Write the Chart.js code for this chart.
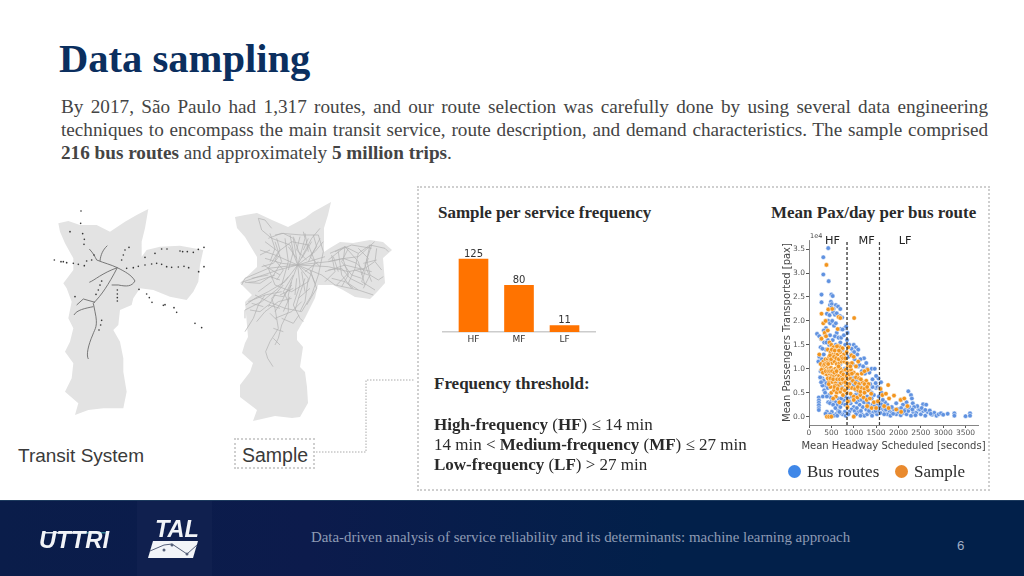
<!DOCTYPE html>
<html>
<head>
<meta charset="utf-8">
<title>Data sampling</title>
<script src="https://cdn.jsdelivr.net/npm/chart.js@4"></script>
<style>
  html, body { margin: 0; padding: 0; background: #fff; }
  #slide { position: relative; width: 1024px; height: 576px; overflow: hidden; font-family: "Liberation Serif", serif; color: #2a2a2a; }
  .t { position: absolute; white-space: nowrap; }
  .sans { font-family: "Liberation Sans", sans-serif; color: #3a3a3a; }
  #title { left: 59px; top: 35px; font-size: 40.6px; font-weight: bold; color: #0b2f5f; }
  #intro { position: absolute; left: 61px; top: 95px; width: 927px; font-size: 19.2px; line-height: 23px; color: #444; }
  #intro div { white-space: nowrap; }
  #intro .just { white-space: normal; text-align: justify; text-align-last: justify; }
  #box { position: absolute; left: 417px; top: 186px; width: 569px; height: 301px; border: 2px dotted #cfcfcf; }
  #sampleBox { position: absolute; left: 234px; top: 438px; width: 77px; height: 27px; border: 2px dotted #cfcfcf; }
  #footer { position: absolute; left: 0; top: 500px; width: 1024px; height: 76px; background: linear-gradient(90deg, #0a1d4a 0%, #0c1b4c 30%, #02204a 65%, #02204a 100%); border-top: 1px solid #1c3a5e; box-sizing: border-box; }
  #talPanel { position: absolute; left: 137px; top: 0; width: 75px; height: 75px; background: #10204f; }
  canvas { position: absolute; filter: blur(0.3px); }
  .dot { position: absolute; width: 13px; height: 13px; border-radius: 50%; }
</style>
</head>
<body>
<div id="slide">
  <div class="t" id="title">Data sampling</div>
  <div id="intro">
    <div class="just">By 2017, São Paulo had 1,317 routes, and our route selection was carefully done by using several data engineering</div>
    <div class="just">techniques to encompass the main transit service, route description, and demand characteristics. The sample comprised</div>
    <div><b>216 bus routes</b> and approximately <b>5 million trips</b>.</div>
  </div>

  <svg style="position:absolute;left:0;top:0;filter:blur(0.35px)" width="1024" height="576">
    <defs>
      <path id="city" fill="#e3e3e3" d="M85,85 L115,78 150,90 200,90 240,110 285,80 320,60 355,42 345,100 335,140 335,185 350,165 390,155 450,152 520,165 510,210 505,260 490,290 470,315 420,305 370,285 330,280 310,310 305,330 270,345 265,390 250,405 270,440 280,490 280,530 290,590 280,640 220,640 175,645 135,660 145,625 105,590 125,550 130,505 105,470 120,440 130,400 115,370 125,320 110,280 100,265 130,225 130,190 105,145 90,110 Z"/>
    </defs>
    <!-- transit system map -->
    <g transform="translate(30,195) scale(0.3333)">
      <use href="#city"/>
      <g fill="none" stroke="#666" stroke-width="2.6">
        <path d="M175,492 C168,480 175,450 188,420 C195,400 205,395 195,350 L190,325 C215,300 235,270 262,218"/>
        <path d="M132,360 C140,345 165,340 190,335"/>
        <path d="M140,330 L160,312 195,322"/>
        <path d="M178,262 C195,255 215,235 262,218"/>
        <path d="M200,195 C225,205 240,208 262,218"/>
        <path d="M178,162 C190,175 195,185 200,195 M232,152 C218,165 212,180 210,198"/>
        <path d="M262,218 C285,230 305,240 315,258 C305,275 290,275 265,270 L245,270"/>
      </g>
      <g fill="#333">
        <circle cx="153" cy="48" r="2.5"/><circle cx="152" cy="85" r="2.5"/><circle cx="120" cy="110" r="2.5"/><circle cx="158" cy="116" r="2.5"/><circle cx="163" cy="133" r="2.5"/><circle cx="162" cy="148" r="2.5"/>
        <circle cx="73" cy="195" r="2.5"/><circle cx="93" cy="200" r="2.5"/><circle cx="100" cy="200" r="2.5"/><circle cx="110" cy="203" r="2.5"/><circle cx="130" cy="205" r="2.5"/><circle cx="145" cy="208" r="2.5"/><circle cx="163" cy="212" r="2.5"/><circle cx="170" cy="198" r="2.5"/><circle cx="185" cy="195" r="2.5"/><circle cx="192" cy="180" r="2.5"/>
        <circle cx="297" cy="157" r="2.5"/><circle cx="285" cy="165" r="2.5"/><circle cx="280" cy="180" r="2.5"/><circle cx="275" cy="195" r="2.5"/><circle cx="290" cy="220" r="2.5"/><circle cx="310" cy="218" r="2.5"/><circle cx="325" cy="214" r="2.5"/><circle cx="345" cy="210" r="2.5"/><circle cx="365" cy="207" r="2.5"/><circle cx="380" cy="205" r="2.5"/><circle cx="395" cy="208" r="2.5"/><circle cx="410" cy="215" r="2.5"/><circle cx="425" cy="217" r="2.5"/><circle cx="445" cy="216" r="2.5"/><circle cx="462" cy="214" r="2.5"/><circle cx="476" cy="218" r="2.5"/><circle cx="506" cy="230" r="2.5"/><circle cx="522" cy="215" r="2.5"/>
        <circle cx="345" cy="187" r="2.5"/><circle cx="375" cy="175" r="2.5"/><circle cx="395" cy="162" r="2.5"/><circle cx="411" cy="162" r="2.5"/><circle cx="450" cy="168" r="2.5"/><circle cx="458" cy="170" r="2.5"/><circle cx="472" cy="170" r="2.5"/><circle cx="490" cy="172" r="2.5"/><circle cx="505" cy="163" r="2.5"/><circle cx="522" cy="157" r="2.5"/>
        <circle cx="327" cy="283" r="2.5"/><circle cx="350" cy="297" r="2.5"/><circle cx="358" cy="308" r="2.5"/><circle cx="366" cy="322" r="2.5"/><circle cx="400" cy="331" r="2.5"/><circle cx="405" cy="329" r="2.5"/><circle cx="432" cy="338" r="2.5"/><circle cx="440" cy="352" r="2.5"/><circle cx="495" cy="385" r="2.5"/><circle cx="515" cy="398" r="2.5"/>
        <circle cx="262" cy="285" r="2.5"/><circle cx="262" cy="297" r="2.5"/><circle cx="262" cy="308" r="2.5"/><circle cx="262" cy="318" r="2.5"/><circle cx="215" cy="258" r="2.5"/><circle cx="210" cy="270" r="2.5"/><circle cx="205" cy="285" r="2.5"/><circle cx="198" cy="298" r="2.5"/><circle cx="135" cy="305" r="2.5"/><circle cx="215" cy="376" r="2.5"/><circle cx="212" cy="390" r="2.5"/><circle cx="207" cy="405" r="2.5"/>
      </g>
    </g>
    <!-- sample map -->
    <path fill="#e3e3e3" d="M235,217 L245,215 257,213 272,220 288,227 305,218 313,212 331,202 328,215 324,228 324,252 330,248 340,242 353,243 370,240 383,242 392,250 383,258 385,283 377,292 370,299 355,297 343,290 333,285 318,285 315,298 305,318 297,332 297,340 303,347 300,367 305,372 307,387 308,403 300,417 292,418 275,416 253,421 257,410 240,397 240,385 250,372 253,363 242,353 245,343 248,337 245,302 252,295 240,283 257,267 257,257 245,237 237,228 Z"/>
    <g transform="translate(225,195) scale(0.3333)" fill="none" stroke="#b2b2b2" stroke-width="2.1" stroke-linejoin="round">
      <path d="M218,210 L240,130 235,110 M218,210 L205,130 175,115 150,120 M218,210 L260,130 285,100 M218,210 L195,150 140,130 110,105 100,70 120,75 140,100"/>
      <path d="M218,210 L270,170 295,140 M218,210 L300,185 M218,210 L310,200 360,190 400,185 449,140 M218,210 L310,215 370,230 420,220 449,200 M218,210 L290,240 330,270 400,285 445,300"/>
      <path d="M310,195 L360,155 400,200 420,270 M340,170 L350,240 380,280 M440,150 L420,210 440,260"/>
      <path d="M218,210 L160,225 100,245 50,262 M218,210 L170,205 120,190 M218,210 L130,220 60,250 50,270 M150,240 L90,260 70,262 M218,210 L150,180 105,165"/>
      <path d="M218,210 L180,260 130,290 90,310 62,330 M190,245 L160,280 110,320 60,345 60,370 M175,270 L140,310 150,340 160,400 135,440 122,470 128,490 144,515 M120,300 L100,330 85,370 60,410"/>
      <path d="M218,210 L195,270 170,320 150,350 M218,210 L225,270 205,330 225,370 235,380 M218,210 L250,250 240,320 225,350 M218,210 L260,240 275,280 245,330 M200,260 L190,300 190,350 170,390 160,430 150,450"/>
      <path d="M130,130 L170,115 230,120 280,120 295,170 280,240 260,300 230,350 180,340 130,320 90,300"/>
      <path d="M160,170 L200,140 250,150 270,200 250,260 200,290 150,270 130,220 Z"/>
      <path d="M150,140 L170,200 140,250 M180,130 L190,200 170,270 M260,140 L230,190 M280,200 L240,230 M120,140 L160,170 M100,290 L140,260 M70,320 L120,300 170,290 M120,350 L160,320 200,310 M150,370 L200,350 230,320"/>
      <path d="M320,180 L330,230 300,260 M370,160 L350,200 380,240 410,250 M400,160 L430,190 410,240 M330,170 L380,150 440,160 M300,230 L360,210 440,230"/>
      <path d="M135,115 L150,160 135,200 M240,115 L250,170 M285,130 L250,200 M205,125 L225,180 M115,210 L165,240 M80,250 L130,240 M230,230 L240,290 M215,250 L210,300 M165,300 L205,280 M130,335 L150,300 M175,350 L195,305 M220,310 L255,280"/>
      <path d="M155,130 L165,165 150,195 175,225 155,255 M195,120 L205,170 190,225 M225,125 L215,165 245,195 M265,120 L275,155 255,185 285,215 M110,215 L145,205 165,180 M105,180 L135,165 M60,262 L105,265 135,245 165,255 M75,345 L105,350 130,330 165,340 M80,325 L115,335 M95,380 L120,350 M145,300 L175,305 200,270 M205,240 L175,290 190,320 M240,250 L225,295 210,345 M255,225 L270,265 M170,370 L205,385 222,360 M145,400 L175,410 M145,430 L165,450 M135,355 L155,375 M190,155 L215,190 M250,130 L235,165"/>
    </g>
    <g transform="translate(320,225) scale(0.3333)" fill="none" stroke="#b2b2b2" stroke-width="2.1" stroke-linejoin="round">
      <path d="M30,85 L75,65 115,85 150,60 195,70 205,80 M25,110 L70,100 110,115 135,140 125,170 M25,135 L65,130 90,160 130,180 M35,160 L75,170 100,190 M75,65 L70,105 85,150 65,185 M115,85 L105,130 85,175 115,195 M150,60 L140,105 150,150 175,165 190,155 M170,70 L165,110 185,135 M130,115 L170,105 M105,135 L145,150 M40,95 L55,140 M50,180 L90,140 M125,170 L165,195 M150,150 L130,190"/>
    </g>
    <!-- leader from sample label to frequency panel -->
    <path d="M316,452 H366 V380 H415" fill="none" stroke="#aaa" stroke-width="1" stroke-dasharray="1.5 1.5"/>
  </svg>

  <div class="t sans" style="left:18px;top:445px;font-size:19px">Transit System</div>
  <div id="sampleBox"></div>
  <div class="t sans" style="left:242px;top:444px;font-size:19.5px">Sample</div>

  <div id="box"></div>
  <div class="t" style="left:438px;top:203px;font-size:17px;font-weight:bold">Sample per service frequency</div>
  <div class="t" style="left:771px;top:203px;font-size:17px;font-weight:bold">Mean Pax/day per bus route</div>

  <canvas id="freqChart" style="left:433px;top:240px;width:172px;height:110px"></canvas>
  <canvas id="paxChart" style="left:770px;top:225px;width:220px;height:227px"></canvas>

  <div class="t" style="left:434px;top:374px;font-size:17px;font-weight:bold">Frequency threshold:</div>
  <div class="t" style="left:434px;top:415px;font-size:17px"><b>High-frequency</b> (<b>HF</b>) ≤ 14 min</div>
  <div class="t" style="left:434px;top:435px;font-size:17px">14 min &lt; <b>Medium-frequency</b> (<b>MF</b>) ≤ 27 min</div>
  <div class="t" style="left:434px;top:455px;font-size:17px"><b>Low-frequency</b> (<b>LF</b>) &gt; 27 min</div>

  <div class="dot" style="left:788px;top:465px;background:#3f87e8"></div>
  <div class="t" style="left:807px;top:462px;font-size:17px">Bus routes</div>
  <div class="dot" style="left:895px;top:465px;background:#e98a2e"></div>
  <div class="t" style="left:914px;top:462px;font-size:17px">Sample</div>

  <div id="footer">
    <div id="talPanel"></div>
    <svg style="position:absolute;left:0;top:0;filter:blur(0.3px)" width="300" height="76">
      <rect x="43" y="31" width="36" height="1.5" fill="#dfe6ee"/><rect x="79" y="31" width="30" height="1.5" fill="#2f7f92"/>
      <text x="39" y="47" font-family="Liberation Sans" font-weight="bold" font-style="italic" font-size="24" fill="#f2f4f8" textLength="70" lengthAdjust="spacingAndGlyphs">UTTRI</text>
      <text x="155" y="36" font-family="Liberation Sans" font-weight="bold" font-style="italic" font-size="23" fill="#f2f4f8" textLength="44" lengthAdjust="spacingAndGlyphs">TAL</text>
      <path d="M153,40 L198,40 193,57 148,57 Z" fill="#f2f4f8"/>
      <path d="M150,50 L164,44 L172,43 L187,53 L197,44" fill="none" stroke="#555f78" stroke-width="1"/>
      <circle cx="164" cy="49" r="1.5" fill="#555f78"/><circle cx="172" cy="44" r="1.5" fill="#555f78"/><circle cx="187" cy="53" r="1.5" fill="#555f78"/>
    </svg>
    <div class="t" style="left:311px;top:28px;font-size:14.9px;color:#8e9bb4">Data-driven analysis of service reliability and its determinants: machine learning approach</div>
    <div class="t" style="left:957px;top:37px;font-size:13.3px;color:#a0aec6;font-family:'Liberation Sans',sans-serif">6</div>
  </div>
</div>

<script>
// bar chart
const freqLabels = ["HF", "MF", "LF"];
const freqValues = [125, 80, 11];

// scatter chart, x = headway in seconds, y = passengers in 1e4
const headwayLines = [850, 1575];
const zoneLabels = ["HF", "MF", "LF"];
const zoneLabelX = [525, 1287, 2147];
const xTicks = [0, 500, 1000, 1500, 2000, 2500, 3000, 3500];
const yTicks = [0, 0.5, 1, 1.5, 2, 2.5, 3, 3.5];
const xAxisTitle = "Mean Headway Scheduled [seconds]";
const yAxisTitle = "Mean Passengers Transported [pax]";

const busRoutes = [
  [430,3.52],[320,3.33],[320,2.97],[440,2.83],[280,2.55],[280,2.39],[500,2.55],[530,2.52],[490,2.40],[470,2.33],[510,2.35],[600,2.33],[650,2.30],[550,2.25],[500,2.28],[700,2.25],
  [400,2.15],[460,2.12],[540,2.18],[580,2.13],[620,2.16],[740,2.07],[690,2.10],[430,2.0],[470,1.95],[520,2.0],[560,1.9],[600,1.95],[380,1.85],[330,1.8],[800,1.85],[830,1.88],[700,1.83],[750,1.82],[860,1.75],
  [180,1.73],[230,1.68],[270,1.62],[420,1.6],[360,1.72],[470,1.7],[620,1.75],[850,1.6],[1000,1.5],[1050,1.45],[1100,1.4],[980,1.38],[1080,1.3],[940,1.3],[1230,1.22],[1150,1.2],[1020,1.2],[880,1.25],
  [1300,1.0],[1400,1.0],[1470,1.0],[1350,.92],[1250,.9],[1180,.95],[1100,1.05],[980,1.1],[230,1.25],[210,1.15],[290,1.2],
  [220,.4],[220,.34],[220,.29],[220,.24],[220,.18],[220,.14],[310,.42],[340,.55],[360,.65],[300,.8],[330,.75],[390,.7],[420,.6],[450,.45],[490,.4],[510,.33],[550,.35],[600,.3],[640,.25],[700,.2],[740,.28],[780,.35],[820,.42],[860,.5],[900,.6],[950,.72],[1000,.65],[1050,.55],[1100,.48],[1150,.7],[1200,.6],[1250,.5],[1300,.42],[1350,.55],[1400,.5],[1450,.45],[1500,.6],[1530,.62],[1580,.6],[1620,.5],[1560,.42],[1480,.3],[1420,.25],[1350,.2],[1280,.15],[1200,.2],[1130,.25],[1060,.3],[1000,.2],[950,.15],[900,.1],[850,.22],[800,.1],[750,.05],[700,.08],[650,.12],[600,.05],[550,.02],[510,.1],[400,.1],[370,.06],[470,.05],[630,.02],[680,.1],
  [1100,.1],[1180,.05],[1240,.02],[1300,.05],[1380,.08],[1450,.1],[1520,.05],[1600,.08],[1660,.15],[1700,.1],[1750,.05],[1800,.12],[1850,.08],[1900,.15],[1950,.05],[2000,.1],[2050,.03],[2100,.08],[2150,.15],[2180,.05],[2220,.12],[2280,.02],[2330,.1],[2400,.08],[2450,.15],[2500,.05],[2550,.12],[2600,.02],[2650,.1],[2700,.13],[2750,.04],[2800,.08],[2850,.02],[2900,.05],[2950,.07],[3000,.04],[3100,.06],[3250,.07],[3250,.02],[3500,.01],[3600,.07],[3600,.02],
  [2220,.53],[2280,.45],[2300,.38],[2320,.28],[2180,.3],[2100,.25],[2050,.35],[1950,.28],[1850,.2],[1750,.25],[1700,.3],[2550,.26],[2620,.25],[2480,.15],[2420,.22],[2350,.2],[1600,.3],[1540,.25],[1650,.35],[1600,.18],[1750,.18],[1420,.62],[1370,.68],
  [400,1.0],[450,.85],[500,.9],[550,.8],[600,.75],[650,.7],[700,.65],[750,.6],[800,.8],[850,.9],[900,.95],[950,.85],[1000,.8],[1050,.75],[1100,.7],[1150,.62],[600,1.2],[700,1.1],[500,1.3],[600,1.5],[700,1.55],[750,1.4],[800,1.3],[800,1.0],[450,1.5],[380,1.4],[330,1.3],[350,1.05],
  [260,.95],[250,.82],[300,.65],[270,.72],[360,.5],[400,.42],[430,.3],[470,.28],[540,.25],[590,.18],[660,.38],[720,.38],[810,.25],[880,.38],[930,.28],[1020,.12],[1040,.45],[1120,.35],[1180,.35],[1230,.3],[1320,.28],[1400,.38],[1460,.22],[1540,.12],[1620,.25],[1680,.05],[1720,.15],[1820,.02],[1880,.06],[1980,.16],[2060,.18],[2130,.12],[2240,.2],[2310,.15],[2380,.03],[2520,.18],[2600,.14],[2720,.06],[900,.32],[960,.42],[1070,.18],[1160,.12],[1340,.12],[1410,.02],[1490,.12],[1570,.2],[820,.02],[880,.05],[1050,.05],[1150,.02],
  [260,1.45],[300,1.42],[340,1.55],[390,1.55],[530,1.6],[580,1.68],[660,1.65],[720,1.65],[780,1.7],[810,1.5],[900,1.5],[950,1.42],[1010,1.35],[1130,1.08],[1210,1.05],[1280,1.12],[1420,.78],[1490,.7],[1550,.8],[1610,.72],[1500,.85]
];

const sampleRoutes = [
  [390,3.17],[1010,2.06],[280,2.15],[430,2.24],[520,2.25],[660,2.08],[700,2.06],[320,1.95],[370,2.0],[350,1.75],[420,1.8],[640,1.83],[280,1.63],[380,1.68],[230,1.3],
  [460,1.55],[500,1.5],[550,1.45],[600,1.4],[650,1.48],[700,1.45],[750,1.43],[880,1.45],[420,1.4],[480,1.35],[530,1.3],[590,1.3],[640,1.3],[700,1.35],[780,1.3],[840,1.35],[950,1.28],[1000,1.25],[1100,1.15],
  [320,1.15],[370,1.2],[420,1.2],[470,1.15],[520,1.12],[570,1.15],[620,1.1],[680,1.12],[730,1.15],[790,1.15],[850,1.12],[900,1.1],[960,1.12],[1050,1.05],[300,1.05],[340,1.0],[390,1.05],[440,1.0],[490,1.02],[540,.98],[590,1.0],[640,.98],[700,1.0],[750,.95],[820,.98],[880,.95],[940,.98],[1000,.92],[1080,.88],[1180,.9],[1310,.98],[1240,.95],
  [350,.9],[400,.88],[460,.9],[510,.85],[560,.85],[610,.88],[670,.85],[730,.82],[790,.8],[860,.78],[920,.8],[980,.75],[1040,.7],[1120,.68],[1200,.72],[1280,.75],[450,.75],[520,.72],[590,.7],[650,.65],[710,.7],[770,.72],[830,.65],[900,.68],[960,.6],[1030,.58],[1100,.55],[1170,.6],[1240,.58],[1320,.55],
  [500,.5],[560,.55],[620,.5],[700,.52],[760,.45],[840,.5],[930,.48],[1000,.42],[1080,.4],[1150,.45],[1220,.4],[1290,.35],[1360,.38],[1450,.3],[600,.42],[540,.38],[870,.32],[1000,.35],[1300,.22],[1400,.18],[1500,.18],
  [400,.0],[450,.0],[500,.0],[1000,.0],[1600,.58],[1640,.45],[1720,.48],[1770,.66],[1790,.38],[1900,.44],[2050,.35],[2130,.38],[2200,.22],[1680,.22],[1780,.18],[1950,.15],[2060,.1],[1540,.32],[860,.2],[680,.3],
  [260,1.1],[280,.98],[310,.92],[330,1.08],[355,1.1],[375,.95],[405,1.12],[430,1.1],[450,1.25],[470,1.28],[495,1.2],[510,1.4],[560,1.25],[575,1.38],[610,1.22],[625,1.47],[665,1.2],[670,1.38],[725,1.25],[760,1.22],[810,1.22],[870,1.05],[925,1.05],[430,.95],[470,.95],[515,.95],[565,.92],[615,.95],[660,1.05],[720,.92],[770,.88],[840,.85],[905,.88],[960,.9],[420,.8],[480,.8],[540,.78],[580,.65],[630,.78],[690,.78],[750,.78],[810,.72],[870,.62],[560,.62],[480,.62],[640,.58],[740,.58],[800,.55],[440,.68],[1050,.82],[1120,.8],[1160,.78],[1240,.68],[1330,.68],[1150,.52],[1240,.5],[1300,.62],[1390,.48],[1090,.62]
];

const tickFont = { family: "DejaVu Sans", size: 7.5 };

// value labels over the bars
const barValues = {
  id: "barValues",
  afterDatasetsDraw(chart) {
    const c = chart.ctx;
    c.save();
    c.font = "10px 'DejaVu Sans'";
    c.fillStyle = "#333";
    c.textAlign = "center";
    c.textBaseline = "bottom";
    chart.getDatasetMeta(0).data.forEach(function(bar, i) {
      c.fillText(freqValues[i], bar.x, bar.y);
    });
    c.restore();
  }
};

new Chart(document.getElementById("freqChart"), {
  type: "bar",
  data: {
    datasets: [{
      data: freqValues.map(function(v, i) { return { x: i, y: v }; }),
      backgroundColor: "#ff7300",
      barThickness: 29
    }]
  },
  options: {
    responsive: false,
    animation: false,
    layout: { padding: { left: 10, right: 10, top: 5 } },
    plugins: { legend: { display: false }, tooltip: { enabled: false } },
    scales: {
      x: {
        type: "linear",
        offset: false,
        min: -0.67,
        max: 2.67,
        grid: { display: false, drawTicks: false },
        border: { color: "#cccccc", width: 1.5 },
        afterBuildTicks: function(s) { s.ticks = freqLabels.map(function(l, i) { return { value: i }; }); },
        afterFit: function(s) { s.height = 18; },
        ticks: {
          font: { family: "DejaVu Sans", size: 9 },
          color: "#333",
          padding: 2,
          maxRotation: 0,
          autoSkip: false,
          callback: function(v) { return freqLabels[v]; }
        }
      },
      y: {
        display: false,
        min: 0,
        max: 125 * 87 / 73
      }
    }
  },
  plugins: [barValues]
});

// HF / MF / LF over the scatter, the 1e4 offset text and the x title
// (the axis title option squeezes its text to the plot width, so it goes here)
const zoneText = {
  id: "zoneText",
  afterDatasetsDraw(chart) {
    const c = chart.ctx;
    const sx = chart.scales.x;
    c.save();
    c.fillStyle = "#222";
    c.font = "11.3px 'DejaVu Sans'";
    c.textAlign = "center";
    c.textBaseline = "middle";
    zoneLabels.forEach(function(l, i) {
      c.fillText(l, sx.getPixelForValue(zoneLabelX[i]), 16);
    });
    c.fillStyle = "#444";
    c.font = "10px 'DejaVu Sans'";
    c.fillText(xAxisTitle, (sx.left + sx.right) / 2, 221);
    c.font = "6.5px 'DejaVu Sans'";
    c.textAlign = "left";
    c.fillText("1e4", 40, 11);
    c.restore();
  }
};

function linePoints(x) {
  return [{ x: x, y: -0.174 }, { x: x, y: 3.69 }];
}

new Chart(document.getElementById("paxChart"), {
  type: "scatter",
  data: {
    datasets: [
      {
        data: linePoints(headwayLines[0]),
        showLine: true,
        pointRadius: 0,
        borderColor: "#222",
        borderWidth: 1.2,
        borderDash: [3, 2]
      },
      {
        data: linePoints(headwayLines[1]),
        showLine: true,
        pointRadius: 0,
        borderColor: "#444",
        borderWidth: 1.2,
        borderDash: [3, 2]
      },
      {
        data: sampleRoutes.map(function(p) { return { x: p[0], y: p[1] }; }),
        pointRadius: 2.3,
        backgroundColor: "#f2951f",
        borderColor: "#ffffff",
        borderWidth: 0.5
      },
      {
        data: busRoutes.map(function(p) { return { x: p[0], y: p[1] }; }),
        pointRadius: 2.3,
        backgroundColor: "#6092e0",
        borderColor: "#ffffff",
        borderWidth: 0.5
      }
    ]
  },
  options: {
    responsive: false,
    animation: false,
    layout: { padding: { top: 15, right: 12, left: 11 } },
    plugins: { legend: { display: false }, tooltip: { enabled: false } },
    scales: {
      x: {
        type: "linear",
        min: 0,
        max: 3778,
        grid: { display: true, drawOnChartArea: false, tickLength: 3, tickColor: "#555" },
        border: { color: "#666", width: 0.8 },
        afterBuildTicks: function(s) { s.ticks = xTicks.map(function(v) { return { value: v }; }); },
        afterFit: function(s) { s.height = 27; },
        ticks: { font: tickFont, color: "#555", padding: 1, maxRotation: 0, autoSkip: false, callback: function(v) { return String(v); } }
      },
      y: {
        type: "linear",
        min: -0.174,
        max: 3.69,
        grid: { display: true, drawOnChartArea: false, tickLength: 3, tickColor: "#555" },
        border: { color: "#666", width: 0.8 },
        afterBuildTicks: function(s) { s.ticks = yTicks.map(function(v) { return { value: v }; }); },
        afterFit: function(s) { s.width = 28; },
        title: { display: true, text: yAxisTitle, font: { family: "DejaVu Sans", size: 10 }, color: "#444", padding: 0 },
        ticks: { font: tickFont, color: "#555", padding: 1, autoSkip: false, callback: function(v) { return v.toFixed(1); } }
      }
    }
  },
  plugins: [zoneText]
});
</script>
</body>
</html>
